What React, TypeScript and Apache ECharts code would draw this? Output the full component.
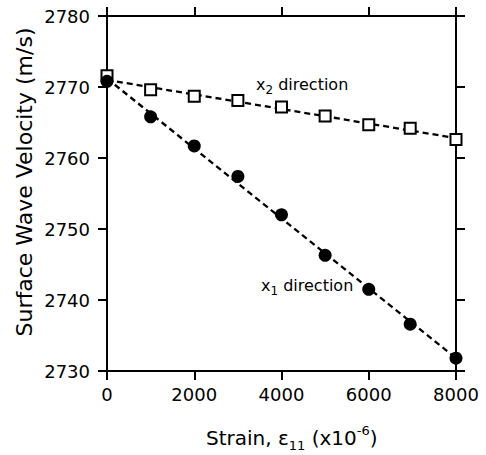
import React, { useEffect, useRef } from "react";
import * as echarts from "echarts";

const strainX1 = [0, 1000, 2000, 3000, 4000, 5000, 6000, 6950, 8000];
const velocityX1 = [2770.8, 2765.8, 2761.7, 2757.4, 2752.0, 2746.3, 2741.5, 2736.6, 2731.8];
const strainX2 = [0, 1000, 2000, 3000, 4000, 5000, 6000, 6950, 8000];
const velocityX2 = [2771.6, 2769.6, 2768.7, 2768.1, 2767.2, 2765.9, 2764.7, 2764.2, 2762.6];
const fitX = [0, 8000];
const fitX1 = [2771.2, 2731.8];
const fitX2 = [2771.0, 2762.8];
const xTicks = [0, 8000, 2000];
const yTicks = [2730, 2780, 10];

const FONT = "DejaVu Sans";

export default function App() {
  const ref = useRef<HTMLDivElement>(null);
  useEffect(() => {
    if (!ref.current) return;
    const chart = echarts.init(ref.current, null, { renderer: "svg" });
    const axisLine = { show: true, onZero: false, lineStyle: { color: "#000", width: 2 } };
    const axisTick = { show: true, inside: false, length: 9, lineStyle: { color: "#000", width: 2 } };
    const pair = (xs: number[], ys: number[]) => xs.map((x, i) => [x, ys[i]]);
    const plain = (v: number) => String(v);
    chart.setOption({
      animation: false,
      backgroundColor: "#fff",
      grid: { left: 107, right: 30, top: 16, bottom: 84 },
      xAxis: [
        {
          type: "value",
          position: "bottom",
          min: xTicks[0],
          max: xTicks[1],
          interval: xTicks[2],
          axisLine,
          axisTick,
          splitLine: { show: false },
          axisLabel: { color: "#000", fontFamily: FONT, fontSize: 18, margin: 14, formatter: plain },
        },
        {
          type: "value",
          position: "top",
          min: xTicks[0],
          max: xTicks[1],
          interval: xTicks[2],
          axisLine,
          axisTick,
          splitLine: { show: false },
          axisLabel: { show: false },
        },
      ],
      yAxis: [
        {
          type: "value",
          position: "left",
          min: yTicks[0],
          max: yTicks[1],
          interval: yTicks[2],
          axisLine,
          axisTick,
          splitLine: { show: false },
          axisLabel: { color: "#000", fontFamily: FONT, fontSize: 18, margin: 17, formatter: plain },
        },
        {
          type: "value",
          position: "right",
          min: yTicks[0],
          max: yTicks[1],
          interval: yTicks[2],
          axisLine,
          axisTick,
          splitLine: { show: false },
          axisLabel: { show: false },
        },
      ],
      series: [
        {
          type: "line",
          data: pair(fitX, fitX1),
          symbol: "none",
          lineStyle: { color: "#000", width: 2.3, type: [6, 4] },
          z: 1,
        },
        {
          type: "line",
          data: pair(fitX, fitX2),
          symbol: "none",
          lineStyle: { color: "#000", width: 2.3, type: [6, 4] },
          z: 1,
        },
        {
          type: "scatter",
          data: pair(strainX2, velocityX2),
          symbol: "rect",
          symbolSize: 11,
          itemStyle: { color: "#fff", borderColor: "#000", borderWidth: 2, opacity: 1 },
          z: 3,
        },
        {
          type: "scatter",
          data: pair(strainX1, velocityX1),
          symbol: "circle",
          symbolSize: 13,
          itemStyle: { color: "#000", opacity: 1 },
          z: 4,
        },
      ],
      graphic: [
        {
          type: "text",
          x: 24,
          y: 182,
          rotation: Math.PI / 2,
          style: {
            text: "Surface Wave Velocity (m/s)",
            fontFamily: FONT,
            fontSize: 22,
            fill: "#000",
            align: "center",
            verticalAlign: "middle",
          },
        },
        {
          type: "text",
          x: 256,
          y: 72,
          style: {
            text: "{a|x}{s|2}{a| direction}",
            rich: {
              a: { fontFamily: FONT, fontSize: 16, lineHeight: 24, fill: "#000" },
              s: { fontFamily: FONT, fontSize: 12, lineHeight: 12, verticalAlign: "bottom", fill: "#000" },
            },
          },
        },
        {
          type: "text",
          x: 261,
          y: 273,
          style: {
            text: "{a|x}{s|1}{a| direction}",
            rich: {
              a: { fontFamily: FONT, fontSize: 16, lineHeight: 24, fill: "#000" },
              s: { fontFamily: FONT, fontSize: 12, lineHeight: 12, verticalAlign: "bottom", fill: "#000" },
            },
          },
        },
        {
          type: "text",
          x: 206,
          y: 424,
          style: {
            text: "{a|Strain, ε}{s|11}{a| (x10}{p|-6}{a|)}",
            rich: {
              a: { fontFamily: FONT, fontSize: 20, lineHeight: 28, fill: "#000" },
              s: { fontFamily: FONT, fontSize: 13, lineHeight: 14, verticalAlign: "bottom", fill: "#000" },
              p: { fontFamily: FONT, fontSize: 13, lineHeight: 14, verticalAlign: "top", fill: "#000" },
            },
          },
        },
      ],
    });
    return () => chart.dispose();
  }, []);
  return (
    <div
      ref={ref}
      style={{ position: "absolute", left: 0, top: 0, width: 486, height: 455 }}
    />
  );
}
